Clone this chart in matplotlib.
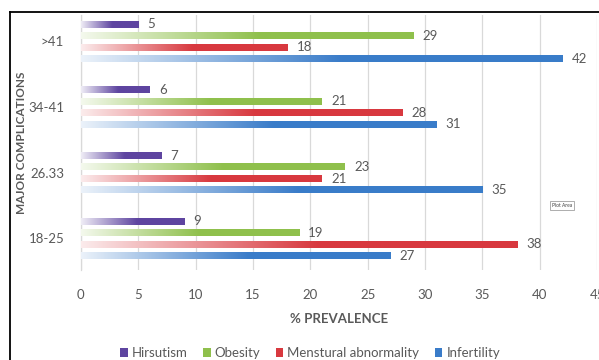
import matplotlib
matplotlib.use("Agg")
import matplotlib.pyplot as plt
import numpy as np
from matplotlib.colors import to_rgb
from matplotlib.lines import Line2D
from matplotlib.patches import Patch

# ── data ──────────────────────────────────────────────────────
age_groups = ["18-25", "26.33", "34-41", ">41"]          # bottom to top
series = ["Hirsutism", "Obesity", "Menstural abnormality", "Infertility"]
hirsutism = [9, 7, 6, 5]
obesity = [19, 23, 21, 29]
menstrual = [38, 21, 28, 18]
infertility = [27, 35, 31, 42]

COLORS = ["#5e45a0", "#8fc04c", "#d8393f", "#3a7cc9"]
TEXT = "#595959"
GRID = "#d9d9d9"

plt.rcParams["font.family"] = ["Lato", "DejaVu Sans"]

fig = plt.figure(figsize=(5.99, 3.60), dpi=100)
ax = fig.add_axes([0.135, 0.25, 0.862, 0.708])

values = [hirsutism, obesity, menstrual, infertility]
slot = 0.175
bar_h = 0.105


def gradient_bar(ax, x_end, y, h, color):
    """Horizontal bar that fades in from a pale tint to the full colour."""
    n = 256
    t = np.linspace(0, 1, n)
    k = np.clip(0.1 + t / 0.6, 0, 1)
    base = np.array(to_rgb(color))
    rgb = 1 - (1 - base)[None, :] * k[:, None]
    img = rgb[None, :, :]
    ax.imshow(img, extent=[0, x_end, y - h / 2, y + h / 2],
              aspect="auto", interpolation="bilinear", zorder=3)


for s, (vals, col) in enumerate(zip(values, COLORS)):
    offset = (1.5 - s) * slot
    for g, v in enumerate(vals):
        y = g + offset
        gradient_bar(ax, v, y, bar_h, col)
        ax.text(v + 0.8, y, str(v), va="center", ha="left",
                fontsize=9.5, color=TEXT, zorder=4)

ax.set_xlim(0, 45)
ax.set_ylim(-0.48, 3.4)
ax.set_xticks(np.arange(0, 46, 5))
ax.set_yticks(range(len(age_groups)))
ax.set_yticklabels(age_groups)
ax.tick_params(axis="both", length=0, labelsize=9.5, labelcolor=TEXT)
ax.tick_params(axis="x", pad=14)
ax.tick_params(axis="y", pad=12)
ax.grid(axis="x", color=GRID, linewidth=0.9, zorder=0)
ax.set_axisbelow(True)
for side in ["top", "right", "bottom"]:
    ax.spines[side].set_visible(False)
ax.spines["left"].set_color(GRID)
ax.spines["left"].set_linewidth(0.9)

ax.set_xlabel("% PREVALENCE", fontsize=9.5, fontweight="bold",
              color=TEXT, labelpad=8)
ax.set_ylabel("MAJOR COMPLICATIONS", fontsize=8.5, fontweight="bold",
              color=TEXT)
ax.yaxis.set_label_coords(-0.105, 0.5)

# small "Plot Area" tooltip box
fig.text(0.938, 0.428, "Plot Area", fontsize=3.5, color="#404040",
         ha="center", va="center",
         bbox=dict(boxstyle="square,pad=0.4", facecolor="white",
                   edgecolor="#a0a0a0", linewidth=0.6))

handles = [Patch(facecolor=c, edgecolor="none") for c in COLORS]
fig.legend(handles, series, loc="center", bbox_to_anchor=(0.518, 0.02),
           ncol=4, frameon=False, fontsize=9.5, labelcolor=TEXT,
           handlelength=0.55, handleheight=0.7, handletextpad=0.3,
           columnspacing=1.2)

# outer frame lines (top and left)
fig.add_artist(Line2D([10 / 599, 1], [1 - 12 / 360] * 2, color="black",
                      linewidth=1.3, transform=fig.transFigure))
fig.add_artist(Line2D([10 / 599] * 2, [0, 1 - 12 / 360], color="black",
                      linewidth=1.3, transform=fig.transFigure))

fig.savefig("out.png", dpi=100, facecolor="white")
plt.close(fig)
